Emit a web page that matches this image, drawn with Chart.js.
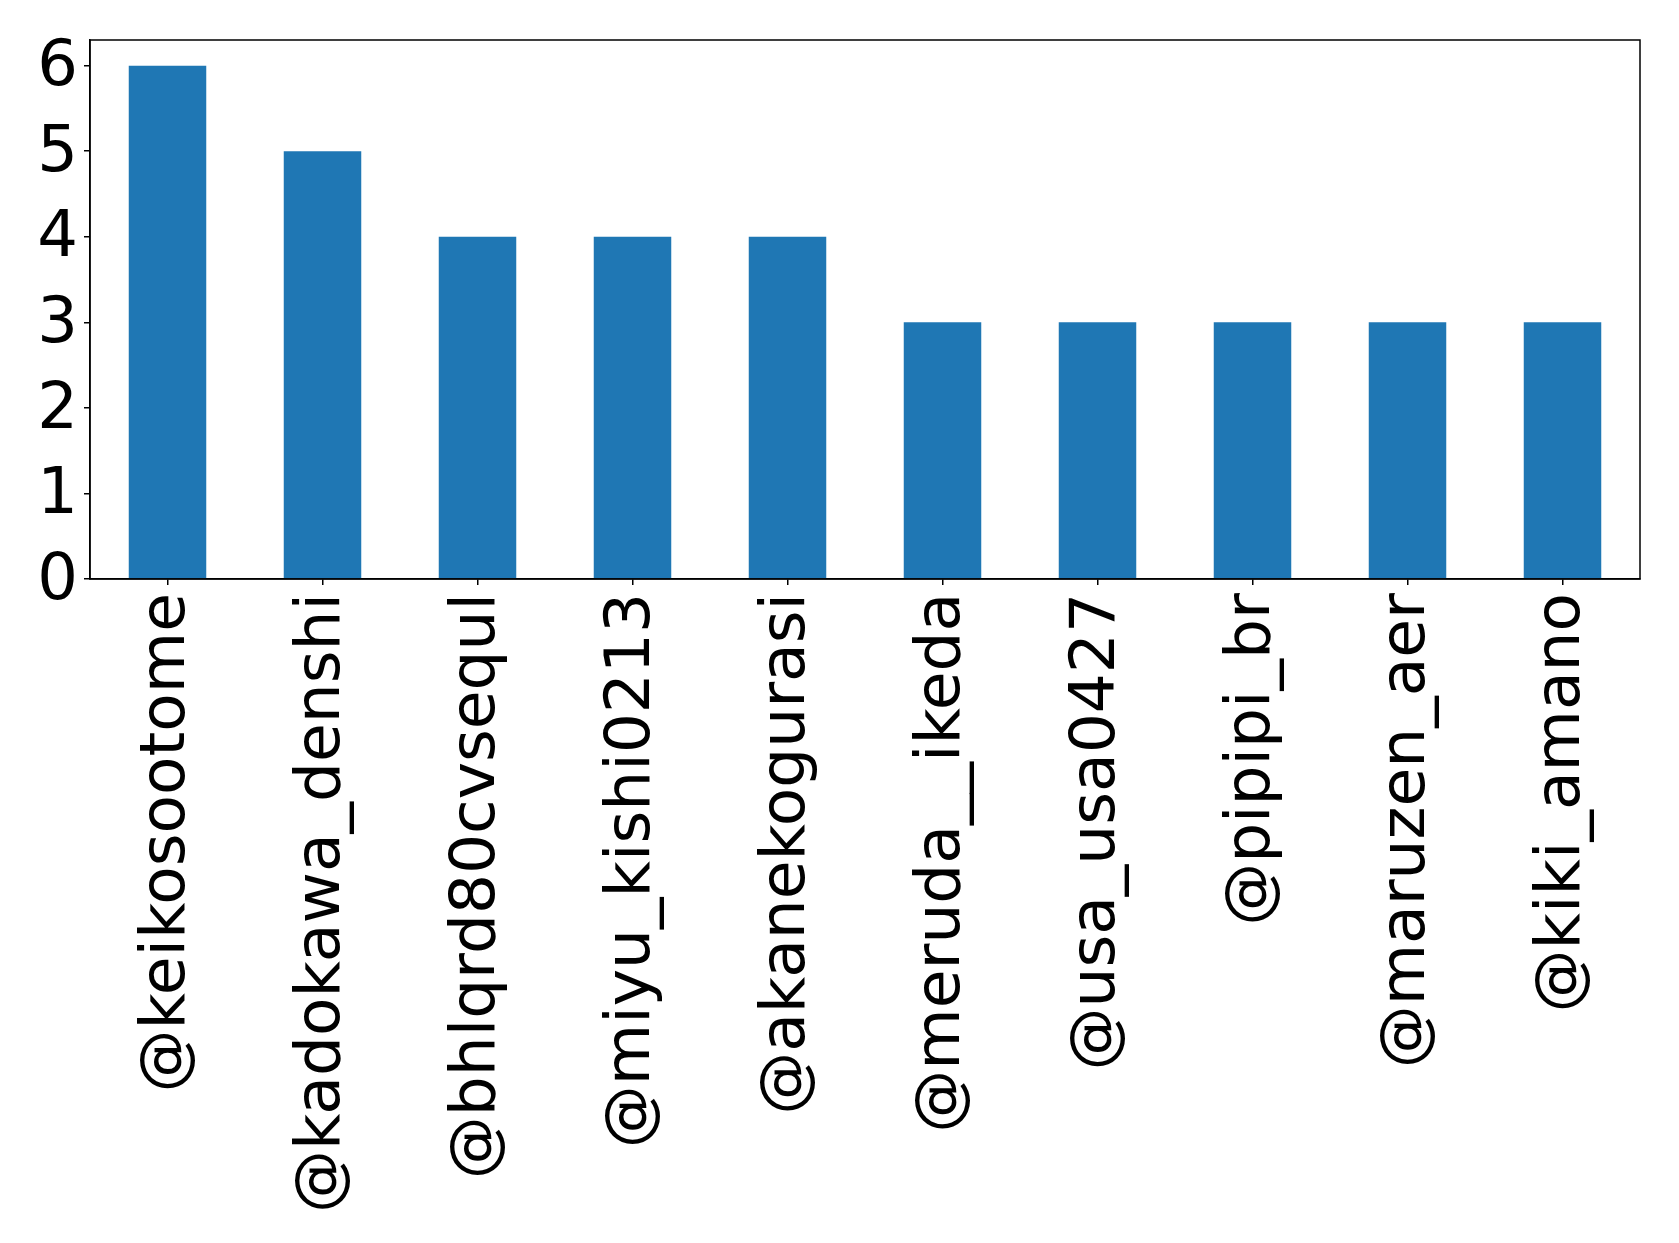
<!DOCTYPE html>
<html>
<head>
<meta charset="utf-8">
<script src="https://cdn.jsdelivr.net/npm/chart.js@4"></script>
<style>
  html, body { margin: 0; padding: 0; background: #fff; }
  #wrap { width: 1679px; height: 1243px; }
</style>
</head>
<body>
<div id="wrap"><canvas id="myChart" width="1679" height="1243"></canvas></div>
<script>
// accounts on the x axis
const accounts = [
  "@keikosootome",
  "@kadokawa_denshi",
  "@bhlqrd80cvsequl",
  "@miyu_kishi0213",
  "@akanekogurasi",
  "@meruda__ikeda",
  "@usa_usa0427",
  "@pipipi_br",
  "@maruzen_aer",
  "@kiki_amano"
];

// counts per account
const counts = [6, 5, 4, 4, 4, 3, 3, 3, 3, 3];

// y tick values
const yTicks = [0, 1, 2, 3, 4, 5, 6];

// draws the top and right spines
const frameBox = {
  id: 'frameBox',
  afterDraw(chart) {
    const a = chart.chartArea;
    const ctx = chart.ctx;
    ctx.save();
    ctx.strokeStyle = '#000';
    ctx.lineWidth = 1.5;
    ctx.strokeRect(a.left, a.top, a.right - a.left, a.bottom - a.top);
    ctx.restore();
  }
};

Chart.defaults.font.family = "'DejaVu Sans', sans-serif";
Chart.defaults.color = '#000';

new Chart(document.getElementById('myChart'), {
  type: 'bar',
  data: {
    labels: accounts,
    datasets: [{
      data: counts,
      backgroundColor: '#1f77b4',
      borderWidth: 0,
      barPercentage: 0.5,
      categoryPercentage: 1.0
    }]
  },
  options: {
    responsive: false,
    animation: false,
    layout: { padding: { top: 40, right: 39, left: 0, bottom: 0 } },
    plugins: { legend: { display: false }, tooltip: { enabled: false } },
    scales: {
      x: {
        offset: true,
        grid: { display: true, drawOnChartArea: false, offset: false, tickLength: 6, color: '#000', lineWidth: 1.5 },
        border: { display: true, color: '#000', width: 1.5 },
        ticks: { minRotation: 90, maxRotation: 90, autoSkip: false, padding: 8, font: { size: 63 }, color: '#000' },
        afterFit(scale) { scale.height = 664; }
      },
      y: {
        min: 0,
        max: 6.3,
        afterBuildTicks(scale) { scale.ticks = yTicks.map(v => ({ value: v })); },
        grid: { display: true, drawOnChartArea: false, tickLength: 6, color: '#000', lineWidth: 1.5 },
        border: { display: true, color: '#000', width: 1.5 },
        ticks: { padding: 6, labelOffset: 3, font: { size: 64 }, color: '#000' },
        afterFit(scale) { scale.width = 90; scale.paddingTop = 0; scale.paddingBottom = 0; }
      }
    }
  },
  plugins: [frameBox]
});
</script>
</body>
</html>
